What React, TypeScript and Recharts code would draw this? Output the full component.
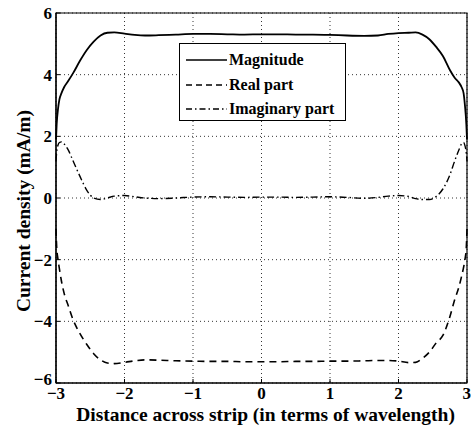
import React from 'react';
import {
  LineChart,
  Line,
  XAxis,
  YAxis,
  CartesianGrid,
  ReferenceArea,
  Label
} from 'recharts';

// Position across the strip (wavelengths)
const xs = [
  -3, -2.99, -2.97, -2.95, -2.92, -2.88, -2.82, -2.75, -2.65, -2.55, -2.45, -2.35, -2.25, -2.15,
  -2.0, -1.85, -1.7, -1.5, -1.25, -1.0, -0.75, -0.5, -0.25, 0, 0.25, 0.5, 0.75, 1.0, 1.25, 1.5,
  1.7, 1.85, 2.0, 2.15, 2.25, 2.35, 2.45, 2.55, 2.65, 2.75, 2.82, 2.88, 2.92, 2.95, 2.97, 2.99, 3
];

const magnitude = [
  1.9, 2.4, 2.9, 3.2, 3.4, 3.6, 3.8, 4.05, 4.45, 4.8, 5.07, 5.27, 5.36, 5.37,
  5.33, 5.29, 5.27, 5.28, 5.3, 5.32, 5.32, 5.31, 5.3, 5.31, 5.31, 5.3, 5.3, 5.29, 5.27, 5.26,
  5.27, 5.32, 5.35, 5.36, 5.37, 5.3, 5.15, 4.9, 4.6, 4.15, 3.9, 3.75, 3.6, 3.4, 3.0, 2.4, 1.9
];

const realPart = [
  -1.0, -1.6, -2.0, -2.3, -2.7, -3.1, -3.5, -3.95, -4.4, -4.75, -5.05, -5.25, -5.35, -5.37,
  -5.33, -5.28, -5.25, -5.26, -5.28, -5.29, -5.3, -5.3, -5.31, -5.31, -5.31, -5.3, -5.3, -5.29,
  -5.29, -5.28, -5.27, -5.27, -5.29, -5.34, -5.33, -5.2, -5.0, -4.7, -4.45, -3.85, -3.3, -2.9,
  -2.55, -2.25, -2.0, -1.6, -1.0
];

const imagPart = [
  1.2, 1.5, 1.72, 1.8, 1.82, 1.75, 1.55, 1.2, 0.7, 0.25, 0.0, -0.05, 0.0, 0.06,
  0.08, 0.04, 0.0, -0.02, 0.0, 0.03, 0.04, 0.03, 0.02, 0.03, 0.03, 0.02, 0.03, 0.04, 0.02, -0.01,
  0.02, 0.06, 0.08, 0.05, -0.02, -0.05, -0.05, 0.05, 0.3, 0.75, 1.2, 1.55, 1.75, 1.8, 1.7, 1.45, 1.2
];

const xTicks = [-3, -2, -1, 0, 1, 2, 3];
const yTicks = [-6, -4, -2, 0, 2, 4, 6];

const data = xs.map((x, i) => ({
  x,
  magnitude: magnitude[i],
  real: realPart[i],
  imag: imagPart[i]
}));

const FONT = 'Liberation Serif';
const fmt = (v: number) => String(v).replace('-', '\u2212');

const legendItems = [
  { name: 'Magnitude', dash: undefined as string | undefined },
  { name: 'Real part', dash: '6 4' },
  { name: 'Imaginary part', dash: '6 3 1.5 3' }
];

const LegendBox = () => (
  <div
    style={{
      position: 'absolute',
      left: 179,
      top: 43,
      border: '1.3px solid #000',
      background: '#fff',
      width: 167,
      height: 78,
      boxSizing: 'border-box',
      padding: '4px 0 0 6px',
      fontFamily: FONT,
      fontWeight: 'bold',
      fontSize: 16,
      lineHeight: '16px',
      color: '#000'
    }}
  >
    {legendItems.map((it) => (
      <div key={it.name} style={{ display: 'flex', alignItems: 'center', height: 24.5 }}>
        <svg width={41} height={10} style={{ marginRight: 2 }}>
          <line x1={0} y1={5} x2={41} y2={5} stroke="#000" strokeWidth={1.6} strokeDasharray={it.dash} />
        </svg>
        <span>{it.name}</span>
      </div>
    ))}
  </div>
);

const tickStyle = { fill: '#000', fontSize: 17, fontWeight: 'bold', fontFamily: FONT };

// y tick: the lowest label sits slightly above its grid line, as in the original
const YTick = (props: any) => {
  const { x, y, payload } = props;
  const shift = payload.value === -6 ? -4 : 0;
  return (
    <text x={x} y={y + shift} dy="0.35em" textAnchor="end" {...tickStyle}>
      {fmt(payload.value)}
    </text>
  );
};

export default function App() {
  return (
    <div style={{ position: 'absolute', left: 0, top: 0, width: 471, height: 432, background: '#fff', fontFamily: FONT }}>
      <LineChart
        width={471}
        height={432}
        data={data}
        margin={{ top: 13, right: 4, left: 0, bottom: 0 }}
        style={{ fontFamily: FONT }}
      >
        <CartesianGrid stroke="#000" strokeDasharray="1 3" strokeWidth={0.8} />
        <XAxis
          dataKey="x"
          type="number"
          domain={[-3, 3]}
          ticks={xTicks}
          tickFormatter={fmt}
          height={49}
          tickSize={-4}
          tickLine={{ stroke: '#000' }}
          axisLine={{ stroke: '#000', strokeWidth: 1.2 }}
          tick={tickStyle}
          tickMargin={8}
        >
          <Label
            content={(props: any) => {
              const vb = props.viewBox;
              return (
                <text
                  x={vb.x + vb.width / 2 + 4}
                  y={421}
                  textAnchor="middle"
                  fill="#000"
                  fontSize={19.5}
                  fontWeight="bold"
                  fontFamily={FONT}
                >
                  Distance across strip (in terms of wavelength)
                </text>
              );
            }}
          />
        </XAxis>
        <YAxis
          type="number"
          domain={[-6, 6]}
          ticks={yTicks}
          width={56}
          tickSize={-4}
          tickLine={{ stroke: '#000' }}
          axisLine={{ stroke: '#000', strokeWidth: 1.2 }}
          tick={<YTick />}
          tickMargin={8}
        >
          <Label
            content={() => (
              <text
                x={0}
                y={0}
                transform="translate(30,211) rotate(-90)"
                textAnchor="middle"
                fill="#000"
                fontSize={19.5}
                fontWeight="bold"
                fontFamily={FONT}
              >
                Current density (mA/m)
              </text>
            )}
          />
        </YAxis>
        <ReferenceArea x1={-3} x2={3} y1={-6} y2={6} fill="none" stroke="#000" strokeWidth={1.2} ifOverflow="visible" />
        <Line
          type="monotone"
          dataKey="magnitude"
          stroke="#000"
          strokeWidth={1.8}
          dot={false}
          isAnimationActive={false}
        />
        <Line
          type="monotone"
          dataKey="real"
          stroke="#000"
          strokeWidth={1.6}
          strokeDasharray="7 5"
          dot={false}
          isAnimationActive={false}
        />
        <Line
          type="monotone"
          dataKey="imag"
          stroke="#000"
          strokeWidth={1.4}
          strokeDasharray="7 3 1.5 3"
          dot={false}
          isAnimationActive={false}
        />
      </LineChart>
      <LegendBox />
    </div>
  );
}
